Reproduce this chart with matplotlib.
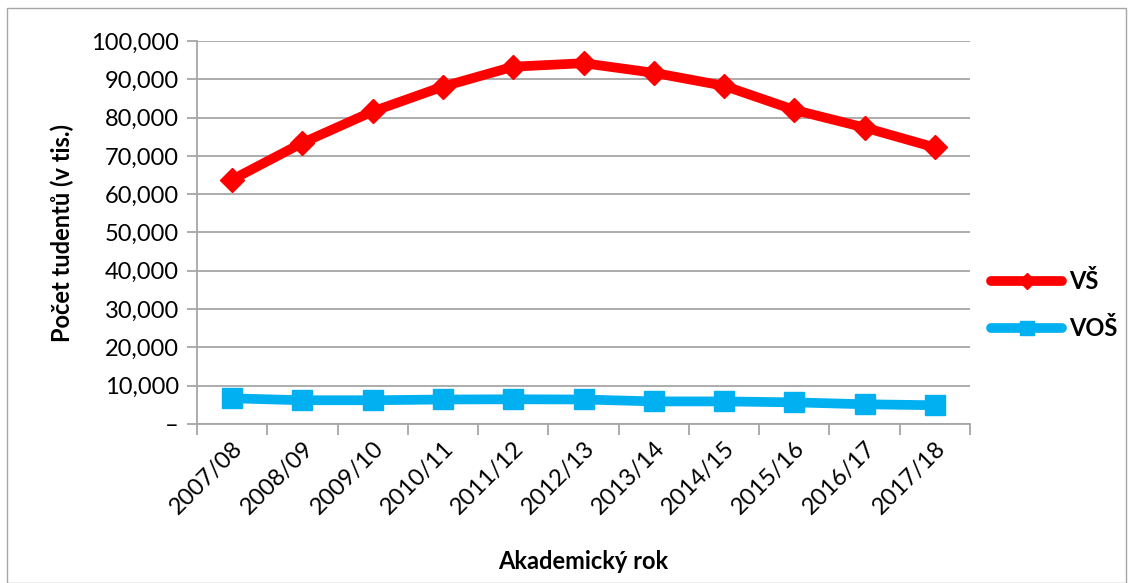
import matplotlib.pyplot as plt
from matplotlib.patches import Rectangle
from matplotlib.ticker import FuncFormatter, FixedLocator
import numpy as np

years = ["2007/08", "2008/09", "2009/10", "2010/11", "2011/12", "2012/13",
         "2013/14", "2014/15", "2015/16", "2016/17", "2017/18"]
vs = [63800, 73400, 81600, 88100, 93300, 94200, 91700, 88300, 82000, 77400, 72200]
vos = [6700, 6200, 6200, 6400, 6450, 6400, 5900, 5900, 5650, 5150, 4900]

plt.rcParams['font.family'] = ['Lato', 'DejaVu Sans']

fig = plt.figure(figsize=(11.33, 5.83), dpi=100)
ax = fig.add_axes([197/1133, 1 - 424/583, (970-197)/1133, (424-41)/583])

x = np.arange(len(years))
ax.plot(x, vs, color='#FF0000', lw=7, marker='D', markersize=12, label='VŠ',
        solid_joinstyle='round', solid_capstyle='round', zorder=3)
ax.plot(x, vos, color='#00B0F0', lw=7, marker='s', markersize=15, label='VOŠ',
        solid_joinstyle='round', solid_capstyle='round', zorder=3)

ax.set_xlim(-0.5, len(years) - 0.5)
ax.set_ylim(0, 100000)
ax.set_yticks(np.arange(0, 100001, 10000))
ax.yaxis.set_major_formatter(FuncFormatter(lambda v, p: "–" if v == 0 else f"{int(v):,}"))
ax.grid(axis='y', color='#A6A6A6', lw=1.3)
ax.set_axisbelow(True)

ax.set_xticks(x)
ax.set_xticklabels(years, rotation=45, ha='right', rotation_mode='anchor', fontsize=17)
ax.tick_params(axis='x', which='major', length=0, pad=10)
ax.xaxis.set_minor_locator(FixedLocator(np.arange(-0.5, len(years), 1.0)))
ax.tick_params(axis='x', which='minor', length=8, color='#A6A6A6', width=1.3)
ax.tick_params(axis='y', length=7, color='#A6A6A6', width=1.3, labelsize=17, pad=6)

for s in ['top', 'right']:
    ax.spines[s].set_visible(False)
for s in ['left', 'bottom']:
    ax.spines[s].set_color('#A6A6A6')
    ax.spines[s].set_linewidth(1.3)

ax.set_ylabel("Počet tudentů (v tis.)", fontsize=17, fontweight='bold', labelpad=12)
ax.set_xlabel("Akademický rok", fontsize=17, fontweight='bold', labelpad=23)

leg = ax.legend(loc='center left', bbox_to_anchor=(1.0, 0.31), frameon=False,
                prop={'weight': 'bold', 'size': 17},
                handlelength=3.0, labelspacing=1.0, handletextpad=0.3,
                markerscale=0.65)

fig.patches.append(Rectangle((7/1133, 0.0), 1 - 14/1133, 1 - 8/583, transform=fig.transFigure,
                             fill=False, edgecolor='#A6A6A6', lw=1))

fig.savefig('out.png', dpi=100)
